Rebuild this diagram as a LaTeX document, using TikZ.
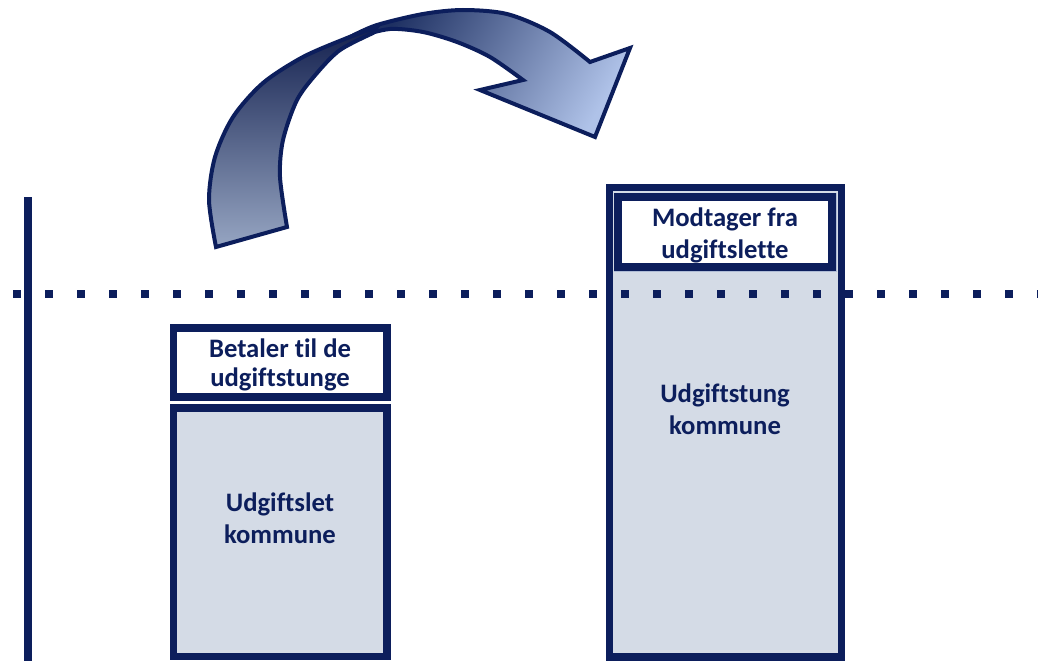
\documentclass[tikz,border=0pt]{standalone}
\usepackage{fontspec}
\setmainfont{Carlito}[Ligatures=NoCommon]
\definecolor{kdark}{RGB}{12,30,92}
\definecolor{kfill}{RGB}{212,219,230}
\definecolor{krim}{RGB}{175,188,214}
\definecolor{arrdeep}{RGB}{20,33,79}
\definecolor{arrpale}{RGB}{150,165,194}
\definecolor{arrtop}{RGB}{30,48,98}
\definecolor{arrtip}{RGB}{175,194,232}
\begin{document}
\begin{tikzpicture}[x=0.75pt,y=-0.75pt,
		frame/.style={draw=kdark,line width=5.5pt},
		boxtext/.style={text=kdark,align=center,font=\bfseries\fontsize{20}{22}\selectfont},
		bodytext/.style={boxtext,font=\bfseries\fontsize{20}{24}\selectfont},
		arrowpart/.style={draw=kdark,line width=3pt}]
	\useasboundingbox (0,0) rectangle (1038,660);
	% axis
	\draw[kdark,line width=6pt] (27.5,197) -- (27.5,662);
	% left column
	\draw[frame,fill=white] (173.5,328) rectangle (387,397);
	\node[boxtext] (betaler) at (280,365) {Betaler til de\\udgiftstunge};
	\draw[frame,fill=kfill] (173.5,408) rectangle (387,656.5);
	\node[bodytext] (udgiftslet) at (280,518) {Udgiftslet\\kommune};
	% right column
	\draw[frame,fill=kfill] (609.5,187.5) rectangle (841.5,657);
	\draw[krim,line width=0.75pt] (614,193) rectangle (836,271);
	\draw[frame,fill=white,line width=6pt] (618,197) rectangle (832,267);
	\node[bodytext] (modtager) at (725,235) {Modtager fra\\udgiftslette};
	\node[bodytext] (udgiftstung) at (725,409) {Udgiftstung\\kommune};
	% level line
	\draw[kdark,line width=6pt,dash pattern=on 6pt off 18pt] (13,294) -- (1040,294);
	% curved arrow
	\draw[arrowpart,top color=arrtop,bottom color=arrtip,shading angle=60]
		plot[smooth] coordinates {(352,36) (377,25) (423,14) (463,10) (507,14) (550,32) (590,62)}
		-- (630,48) -- (595,137) -- (480,90)
		-- plot[smooth] coordinates {(523,80) (490,57) (457,42) (423,32) (390,29) (360,36)} -- cycle;
	\draw[arrowpart,top color=arrdeep,bottom color=arrpale]
		plot[smooth] coordinates {(216,247) (209,200) (215,157) (233,117) (263,83) (303,57) (347,38) (377,27)}
		-- plot[smooth] coordinates {(373,33) (340,50) (317,73) (297,100) (283,140) (280,177) (287,227)} -- cycle;
\end{tikzpicture}
\end{document}
